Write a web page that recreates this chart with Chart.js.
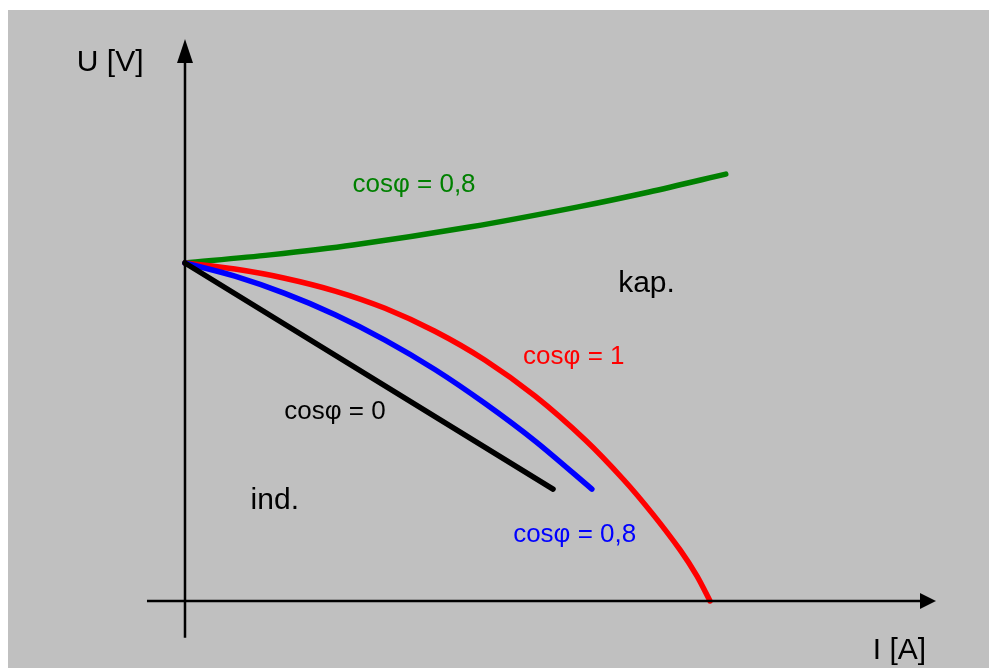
<!DOCTYPE html>
<html>
<head>
<meta charset="utf-8">
<script src="https://cdn.jsdelivr.net/npm/chart.js@4.4.1/dist/chart.umd.min.js"></script>
<style>
  html, body { margin: 0; padding: 0; background: #fff; }
  #wrap { position: relative; width: 989px; height: 668px; overflow: hidden; }
  #panel { position: absolute; left: 8px; top: 10px; right: 0; bottom: 0; background: #c0c0c0; }
  #box { position: absolute; left: 0; top: 0; width: 989px; height: 668px; }
</style>
</head>
<body>
<div id="wrap">
  <div id="panel"></div>
  <div id="box"><canvas id="c"></canvas></div>
</div>
<script>
  /* load characteristics U(I) of a generator
     (I and U in arbitrary units: short-circuit current = 100, no-load voltage = 100) */
  var greenI = [0, 16.2, 32.0, 54.5, 74.9, 88.4, 103];
  var greenU = [100, 102.4, 105.3, 110.7, 116.6, 121.0, 126.3];

  var redI = [0, 9.5, 19.0, 28.6, 38.1, 47.6, 57.1, 66.7, 76.2, 83.6, 89.1, 94.3, 97.5, 100];
  var redU = [100, 98.2, 95.5, 91.7, 86.6, 79.8, 71.3, 60.6, 47.7, 35.8, 25.7, 15.1, 7.4, 0];

  var blueI = [0, 9.5, 19.0, 28.6, 38.1, 47.6, 57.1, 66.7, 77.5];
  var blueU = [100, 96.1, 91.0, 84.7, 77.2, 68.5, 58.5, 47.3, 33.1];

  var blackI = [0, 70.1];
  var blackU = [100, 33.1];

  /* axis lines */
  var axisXI = [-7.24, 140.4];
  var axisXU = [0, 0];
  var axisYI = [0, 0];
  var axisYU = [-10.9, 159.5];

  var notes = [
    { t: "U [V]",      i: -20.6, u: 156.8, c: "#000000", f: 30 },
    { t: "I [A]",      i: 131.0, u: -17.2, c: "#000000", f: 30 },
    { t: "cosφ = 0,8", i: 31.9,  u: 120.9, c: "#008000", f: 26 },
    { t: "kap.",       i: 82.5,  u: 91.5,  c: "#000000", f: 30 },
    { t: "cosφ = 1",   i: 64.4,  u: 70.0,  c: "#ff0000", f: 26 },
    { t: "cosφ = 0",   i: 18.9,  u: 53.8,  c: "#000000", f: 26 },
    { t: "ind.",       i: 12.5,  u: 27.2,  c: "#000000", f: 30 },
    { t: "cosφ = 0,8", i: 62.5,  u: 17.5,  c: "#0000ff", f: 26 }
  ];

  function pts(xs, ys) {
    return xs.map(function (x, k) { return { x: x, y: ys[k] }; });
  }

  function arrow(w, h, dir) {
    var cv = document.createElement("canvas");
    cv.width = w; cv.height = h;
    var g = cv.getContext("2d");
    g.fillStyle = "#000";
    g.beginPath();
    if (dir === "up") {
      g.moveTo(w / 2, 0); g.lineTo(w, h); g.lineTo(0, h);
    } else {
      g.moveTo(w, h / 2); g.lineTo(0, h); g.lineTo(0, 0);
    }
    g.closePath();
    g.fill();
    return cv;
  }

  function curve(data, color, order) {
    return {
      data: data, showLine: true, borderColor: color, borderWidth: 5.5,
      borderCapStyle: "round", borderJoinStyle: "round", pointRadius: 0, tension: 0.3,
      order: order, clip: false
    };
  }

  var notesPlugin = {
    id: "notes",
    afterDatasetsDraw: function (chart) {
      var ctx = chart.ctx, sx = chart.scales.x, sy = chart.scales.y;
      ctx.save();
      ctx.textAlign = "left";
      ctx.textBaseline = "alphabetic";
      notes.forEach(function (n) {
        ctx.font = n.f + "px 'Liberation Sans', Arial, sans-serif";
        ctx.fillStyle = n.c;
        ctx.fillText(n.t, sx.getPixelForValue(n.i), sy.getPixelForValue(n.u));
      });
      ctx.restore();
    }
  };

  new Chart(document.getElementById("c"), {
    type: "scatter",
    data: {
      datasets: [
        curve(pts(greenI, greenU), "#008000", 4),
        curve(pts(redI, redU), "#ff0000", 3),
        curve(pts(blueI, blueU), "#0000ff", 2),
        Object.assign(curve(pts(blackI, blackU), "#000000", 1), { tension: 0 }),
        { data: pts(axisXI, axisXU), showLine: true, borderColor: "#000", borderWidth: 2.5,
          pointRadius: 0, order: 0, clip: false },
        { data: pts(axisYI, axisYU), showLine: true, borderColor: "#000", borderWidth: 2.5,
          pointRadius: 0, order: 0, clip: false },
        { data: [{ x: 141.5, y: 0 }], pointStyle: arrow(16, 16, "right"), pointRadius: 8,
          order: 0, clip: false },
        { data: [{ x: 0, y: 162.7 }], pointStyle: arrow(16, 24, "up"), pointRadius: 8,
          order: 0, clip: false }
      ]
    },
    options: {
      responsive: true, maintainAspectRatio: false, animation: false,
      layout: { padding: { left: 140, right: 44, top: 30, bottom: 23 } },
      plugins: { legend: { display: false }, tooltip: { enabled: false } },
      scales: {
        x: { type: "linear", display: false, min: -8.57, max: 144.76 },
        y: { type: "linear", display: false, min: -13.02, max: 168.93 }
      }
    },
    plugins: [notesPlugin]
  });
</script>
</body>
</html>
